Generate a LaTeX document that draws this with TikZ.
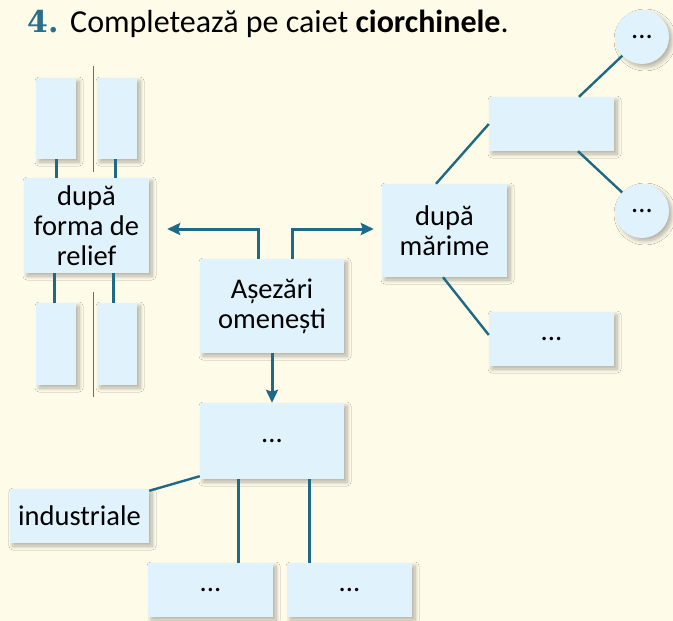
\documentclass[tikz,border=0pt]{standalone}
\usepackage{fontspec}
\setmainfont{Carlito}
\newfontfamily\numfont{DejaVu Serif}
\usetikzlibrary{arrows.meta,shadows.blur}
\definecolor{bgcream}{HTML}{FEFBE9}
\definecolor{boxblue}{HTML}{E0F2FC}
\definecolor{teal}{HTML}{1E6A86}
\definecolor{numteal}{HTML}{2A6F8C}
\definecolor{thingray}{HTML}{6E6E6E}
\tikzset{
  boxshadow/.style={blur shadow={shadow xshift=3pt,shadow yshift=-3pt,shadow blur radius=4pt,shadow opacity=30,shadow blur steps=8}},
  blockbox/.style={rectangle,fill=boxblue,draw=none,inner sep=0pt,align=center,boxshadow,
     font=\fontsize{28.5}{30}\selectfont},
  roundbox/.style={circle,fill=boxblue,draw=none,inner sep=0pt,minimum size=54pt,boxshadow,
     font=\fontsize{28.5}{30}\selectfont},
  conn/.style={draw=teal,line width=3pt},
  diag/.style={draw=teal,line width=2.4pt},
  arrowline/.style={draw=teal,line width=3pt,-{Stealth[length=13pt,width=12pt,inset=2pt]}},
  sepline/.style={draw=thingray,line width=0.8pt}
}
\begin{document}
\begin{tikzpicture}[x=1pt,y=-1pt]
\useasboundingbox (0,0) rectangle (673,621);
\fill[bgcream] (0,0) rectangle (673,621);
% title
\node[anchor=base west,inner sep=0pt,text=numteal,font=\numfont\bfseries\fontsize{30}{36}\selectfont] (num) at (27,32) {4.};
\node[anchor=base west,inner sep=0pt,font=\fontsize{32}{38}\selectfont] (title) at (70,32) {Completează pe caiet \textbf{ciorchinele}.};
% separator lines
\draw[sepline] (93,66) coordinate (s1a) -- (93,172) coordinate (s1b);
\draw[sepline] (93,292) coordinate (s2a) -- (93,397) coordinate (s2b);
% left group
\node[blockbox,minimum width=40pt,minimum height=81pt] (tl) at (56,118.5) {};
\node[blockbox,minimum width=40pt,minimum height=81pt] (tr) at (117,118.5) {};
\node[blockbox,minimum width=125pt,minimum height=95pt] (relief) at (86.5,225.5) {după\\forma de\\relief};
\node[blockbox,minimum width=40pt,minimum height=82pt] (bl) at (56,344) {};
\node[blockbox,minimum width=40pt,minimum height=82pt] (br) at (117,344) {};
% centre
\node[blockbox,minimum width=144pt,minimum height=94pt] (ase) at (272,306) {Așezări\\omenești};
\node[blockbox,minimum width=144pt,minimum height=76pt] (mid) at (272,441) {...};
\node[blockbox,minimum width=139pt,minimum height=54pt] (ind) at (79.5,516) {industriale};
\node[blockbox,minimum width=125pt,minimum height=54pt] (b1) at (210.5,590) {...};
\node[blockbox,minimum width=125pt,minimum height=54pt] (b2) at (349.5,590) {...};
% right group
\node[blockbox,minimum width=125pt,minimum height=93pt] (marime) at (444.5,230.5) {după\\mărime};
\node[blockbox,minimum width=125pt,minimum height=54pt] (upbox) at (551.5,124) {};
\node[blockbox,minimum width=125pt,minimum height=54pt] (lowbox) at (551.5,339) {...};
\node[roundbox] (c1) at (642,37) {...};
\node[roundbox] (c2) at (642,211) {...};
% left connectors
\draw[conn] (tl.south) -- (tl.south |- relief.north);
\draw[conn] ([xshift=-2pt]tr.south) -- ([xshift=-2pt]tr.south |- relief.north);
\draw[conn] ([xshift=-2pt]bl.north) -- ([xshift=-2pt]bl.north |- relief.south);
\draw[conn] ([xshift=-4pt]br.north) -- ([xshift=-4pt]br.north |- relief.south);
% arrows from centre
\draw[arrowline] ([xshift=-14pt]ase.north) |- ([xshift=18pt,yshift=-3.5pt]relief.east);
\draw[arrowline] ([xshift=20pt]ase.north) |- ([xshift=-8pt,yshift=1.5pt]marime.west);
\draw[arrowline] (ase.south) -- (mid.north);
% lower connectors
\draw[diag] ([yshift=3pt]mid.south west) -- ([yshift=-2pt]ind.north east);
\draw[conn] ([xshift=-34pt]mid.south) -- ([xshift=-34pt]mid.south |- b1.north);
\draw[conn] ([xshift=37pt]mid.south) -- ([xshift=37pt]mid.south |- b2.north);
% right connectors
\draw[diag] ([xshift=-8.5pt]marime.north) -- (upbox.west);
\draw[diag] ([xshift=-1.5pt]marime.south) -- ([yshift=4pt]lowbox.west);
\draw[diag] ([xshift=27.5pt]upbox.north) -- (c1);
\draw[diag] ([xshift=26.5pt]upbox.south) -- (c2);
\end{tikzpicture}
\end{document}
